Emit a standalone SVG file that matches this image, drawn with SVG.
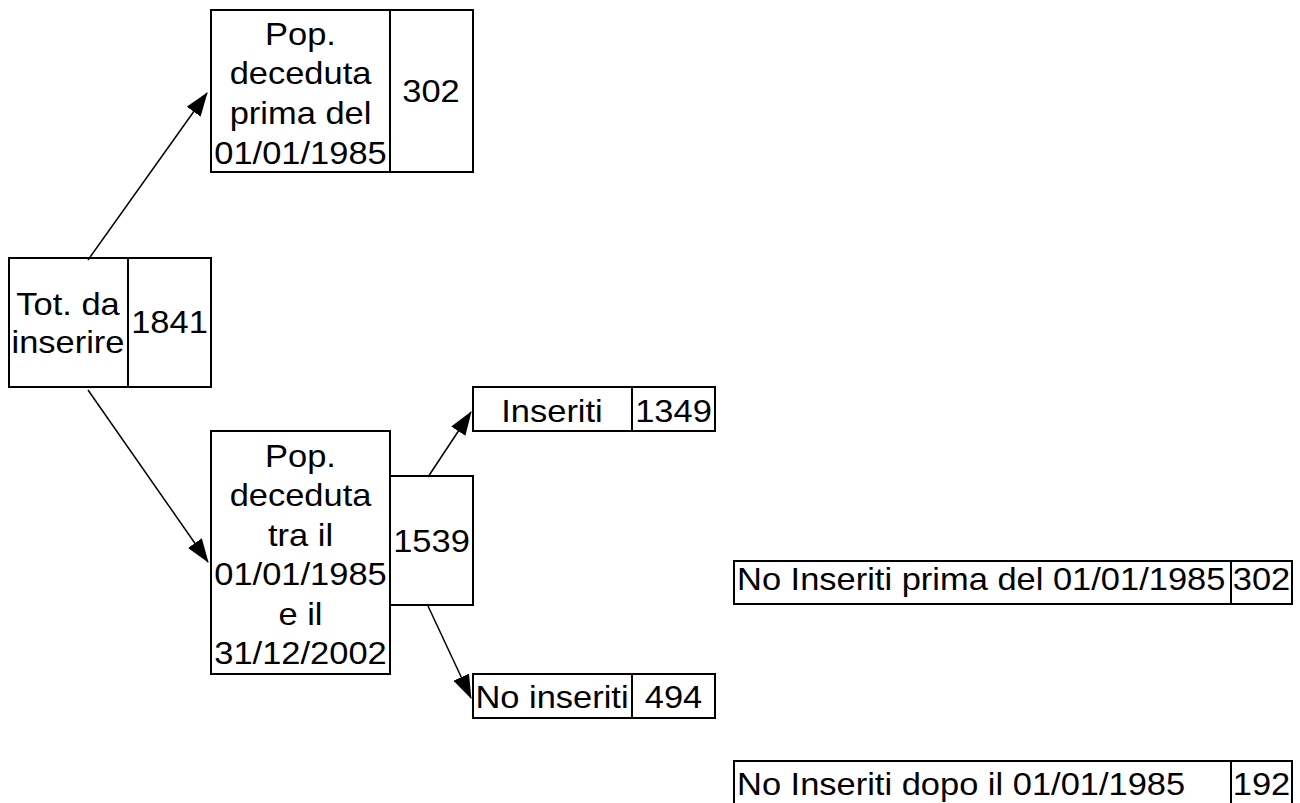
<svg xmlns="http://www.w3.org/2000/svg" width="1300" height="803" viewBox="0 0 1300 803">
<style>
.box{fill:#fff;stroke:#000;stroke-width:2}
.div{stroke:#000;stroke-width:2}
text{font-family:"Liberation Sans",Arial,sans-serif;font-size:30.5px;fill:#000}
.c{text-anchor:middle}
.l{text-anchor:start}
.conn{stroke:#000;stroke-width:1.5;fill:none;marker-end:url(#ah)}
</style>
<defs>
<marker id="ah" markerUnits="userSpaceOnUse" markerWidth="24" markerHeight="17" refX="23" refY="8.5" orient="auto" viewBox="0 0 24 17">
<path d="M0,0 L24,8.5 L0,17 z" fill="#000"/>
</marker>
</defs>
<rect width="1300" height="803" fill="#fff"/>

<g id="n_prima">
<rect class="box" x="211" y="10" width="262" height="162"/>
<line class="div" x1="390" y1="10" x2="390" y2="172"/>
<text class="c" transform="translate(300.5,45) scale(1.13,1)">Pop.</text>
<text class="c" transform="translate(300.5,84) scale(1.13,1)">deceduta</text>
<text class="c" transform="translate(300.5,124) scale(1.13,1)">prima del</text>
<text class="c" transform="translate(300.5,164) scale(1.13,1)">01/01/1985</text>
<text class="c" transform="translate(431,102) scale(1.13,1)">302</text>
</g>

<g id="n_tot">
<rect class="box" x="9" y="258" width="202" height="129"/>
<line class="div" x1="128" y1="258" x2="128" y2="387"/>
<text class="c" transform="translate(68,315) scale(1.13,1)">Tot. da</text>
<text class="c" transform="translate(68,353) scale(1.13,1)">inserire</text>
<text class="c" transform="translate(169.5,333) scale(1.13,1)">1841</text>
</g>

<g id="n_tra">
<rect class="box" x="211" y="431" width="179" height="243"/>
<rect class="box" x="390" y="476" width="83" height="129"/>
<text class="c" transform="translate(300.5,467) scale(1.13,1)">Pop.</text>
<text class="c" transform="translate(300.5,506) scale(1.13,1)">deceduta</text>
<text class="c" transform="translate(300.5,545.5) scale(1.13,1)">tra il</text>
<text class="c" transform="translate(300.5,585) scale(1.13,1)">01/01/1985</text>
<text class="c" transform="translate(300.5,625) scale(1.13,1)">e il</text>
<text class="c" transform="translate(300.5,664) scale(1.13,1)">31/12/2002</text>
<text class="c" transform="translate(431.5,552) scale(1.13,1)">1539</text>
</g>

<g id="n_inseriti">
<rect class="box" x="473" y="387" width="242" height="44"/>
<line class="div" x1="632" y1="387" x2="632" y2="431"/>
<text class="c" transform="translate(552,421.5) scale(1.13,1)">Inseriti</text>
<text class="c" transform="translate(673.5,421.5) scale(1.13,1)">1349</text>
</g>

<g id="n_noinseriti">
<rect class="box" x="473" y="674" width="242" height="44"/>
<line class="div" x1="632" y1="674" x2="632" y2="718"/>
<text class="c" transform="translate(552,708) scale(1.13,1)">No inseriti</text>
<text class="c" transform="translate(673.5,708) scale(1.13,1)">494</text>
</g>

<g id="n_noins_prima">
<rect class="box" x="734" y="561" width="558" height="43"/>
<line class="div" x1="1231" y1="561" x2="1231" y2="604"/>
<text class="l" transform="translate(737,590) scale(1.13,1)">No Inseriti prima del 01/01/1985</text>
<text class="c" transform="translate(1261.5,590) scale(1.13,1)">302</text>
</g>

<g id="n_noins_dopo">
<rect class="box" x="734" y="761" width="558" height="60"/>
<line class="div" x1="1231" y1="761" x2="1231" y2="821"/>
<text class="l" transform="translate(737,795) scale(1.13,1)">No Inseriti dopo il 01/01/1985</text>
<text class="c" transform="translate(1261.5,795) scale(1.13,1)">192</text>
</g>

<g id="connectors">
<line class="conn" x1="88" y1="260" x2="207" y2="93"/>
<line class="conn" x1="88" y1="390" x2="208" y2="562"/>
<line class="conn" x1="428" y1="477" x2="471" y2="412"/>
<line class="conn" x1="428" y1="606" x2="471" y2="698"/>
</g>
</svg>
